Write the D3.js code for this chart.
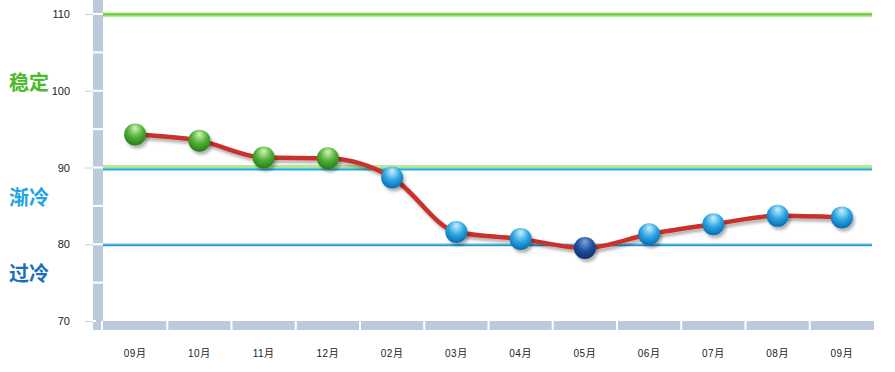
<!DOCTYPE html>
<html>
<head>
<meta charset="utf-8">
<script src="https://cdn.jsdelivr.net/npm/d3@7"></script>
<style>
  body { margin: 0; background: #fff; }
  text { font-family: Arial, "Liberation Sans", "Noto Sans CJK SC", sans-serif; }
</style>
</head>
<body>
<div id="chart"></div>
<script>
const months = ['09月', '10月', '11月', '12月', '02月', '03月', '04月', '05月', '06月', '07月', '08月', '09月'];
const values = [94.3, 93.5, 91.3, 91.2, 88.7, 81.6, 80.7, 79.5, 81.3, 82.6, 83.7, 83.5];
const yTicks = [70, 80, 90, 100, 110];
const zoneNames = ['稳定', '渐冷', '过冷'];
const zoneLevels = [101, 86, 76];

const width = 895, height = 372;
const margin = { top: 14, right: 21, bottom: 51, left: 103 };

const svg = d3.select('#chart').append('svg')
  .attr('width', width).attr('height', height);

const x = d3.scaleBand().domain(d3.range(months.length))
  .range([margin.left, width - margin.right]);
const y = d3.scaleLinear().domain([70, 110]).range([height - margin.bottom, margin.top]);

const defs = svg.append('defs');
function ball(id, c0, c1, c2) {
  const g = defs.append('radialGradient').attr('id', id)
    .attr('cx', '50%').attr('cy', '35%').attr('r', '65%').attr('fx', '50%').attr('fy', '20%');
  g.append('stop').attr('offset', '0%').attr('stop-color', c0);
  g.append('stop').attr('offset', '55%').attr('stop-color', c1);
  g.append('stop').attr('offset', '100%').attr('stop-color', c2);
}
ball('gGreen', '#d4f5bd', '#4fb033', '#2c7a18');
ball('gBlue', '#cdefff', '#2aa6e2', '#0b6aae');
ball('gDark', '#7fa6dc', '#1d4f9e', '#0d2f6c');
const f = defs.append('filter').attr('id', 'shadow').attr('x', '-50%').attr('y', '-50%').attr('width', '200%').attr('height', '200%');
f.append('feDropShadow').attr('dx', 2).attr('dy', 3).attr('stdDeviation', 1.8)
  .attr('flood-color', '#000').attr('flood-opacity', 0.3);

// left axis bar
const x0 = margin.left;
svg.append('rect').attr('x', x0 - 10).attr('y', 0).attr('width', 10)
  .attr('height', y(70) + 9).attr('fill', '#bccbdc');
// bottom axis bar
svg.append('rect').attr('x', x0 - 10).attr('y', y(70)).attr('width', x.range()[1] - x0 + 10)
  .attr('height', 9).attr('fill', '#bccbdc');
// dividers on left bar (every 5)
svg.selectAll('.ydiv').data(d3.range(75, 111, 5)).join('line')
  .attr('x1', x0 - 10).attr('x2', x0).attr('y1', d => y(d)).attr('y2', d => y(d))
  .attr('stroke', '#fff').attr('stroke-width', 2);
svg.append('line').attr('x1', x0 - 10).attr('x2', x0 - 7).attr('y1', y(70)).attr('y2', y(70))
  .attr('stroke', '#fff').attr('stroke-width', 2);
svg.append('line').attr('x1', x0 - 1).attr('x2', x0 - 1).attr('y1', y(70)).attr('y2', y(70) + 9)
  .attr('stroke', '#fff').attr('stroke-width', 2);
// dividers on bottom bar
svg.selectAll('.xdiv').data(d3.range(1, months.length)).join('line')
  .attr('x1', d => x(d)).attr('x2', d => x(d)).attr('y1', y(70)).attr('y2', y(70) + 9)
  .attr('stroke', '#fff').attr('stroke-width', 2);

// y axis ticks + labels
const yAxis = d3.axisLeft(y).tickValues(yTicks).tickSize(8).tickPadding(15);
const ya = svg.append('g').attr('transform', `translate(${x0 - 10},0)`).call(yAxis);
ya.select('.domain').remove();
ya.selectAll('.tick line').attr('stroke', '#c8d2de');
ya.selectAll('.tick text').attr('font-size', 11).attr('fill', '#222');

// x labels
svg.selectAll('.xl').data(months).join('text')
  .attr('x', (d, i) => x(i) + x.bandwidth() / 2).attr('y', 357)
  .attr('text-anchor', 'middle').attr('font-size', 10).attr('fill', '#222')
  .attr('letter-spacing', 0.5).text(d => d);

// threshold lines
const xr = x.range()[1] - 2;
function hline(v, dy, color, w) {
  svg.append('line').attr('x1', x0).attr('x2', xr)
    .attr('y1', y(v) + dy).attr('y2', y(v) + dy)
    .attr('stroke', color).attr('stroke-width', w);
}
hline(110, -1.5, '#e6f0a0', 1.5);
hline(110, 0.5, '#62c83c', 2.5);
hline(110, 2.5, '#bfe9a8', 1.5);
hline(90, -1.5, '#b4e89a', 2);
hline(90, 0.5, '#5cc33a', 1.2);
hline(90, 2, '#22aee6', 1.8);
hline(80, -0.5, '#b6dff3', 1.5);
hline(80, 1, '#2a9ad8', 1.8);

// zone labels
const zoneColors = ['#4bbb2a', '#1ea4e2', '#1b6fba'];
svg.selectAll('.zl').data(zoneNames).join('text')
  .attr('x', 9).attr('y', (d, i) => y(zoneLevels[i]) + 6.5)
  .attr('font-size', 20).attr('font-weight', 'bold')
  .attr('fill', (d, i) => zoneColors[i]).text(d => d);

// line
const line = d3.line()
  .x((d, i) => x(i) + x.bandwidth() / 2)
  .y(d => y(d))
  .curve(d3.curveMonotoneX);
svg.append('path').datum(values).attr('d', line)
  .attr('fill', 'none').attr('stroke', '#c8302c').attr('stroke-width', 4.5)
  .attr('stroke-linejoin', 'round').attr('filter', 'url(#shadow)');

// markers
svg.selectAll('.pt').data(values).join('circle')
  .attr('cx', (d, i) => x(i) + x.bandwidth() / 2).attr('cy', d => y(d)).attr('r', 11)
  .attr('fill', d => d >= 90 ? 'url(#gGreen)' : d >= 80 ? 'url(#gBlue)' : 'url(#gDark)')
  .attr('filter', 'url(#shadow)');
</script>
</body>
</html>
